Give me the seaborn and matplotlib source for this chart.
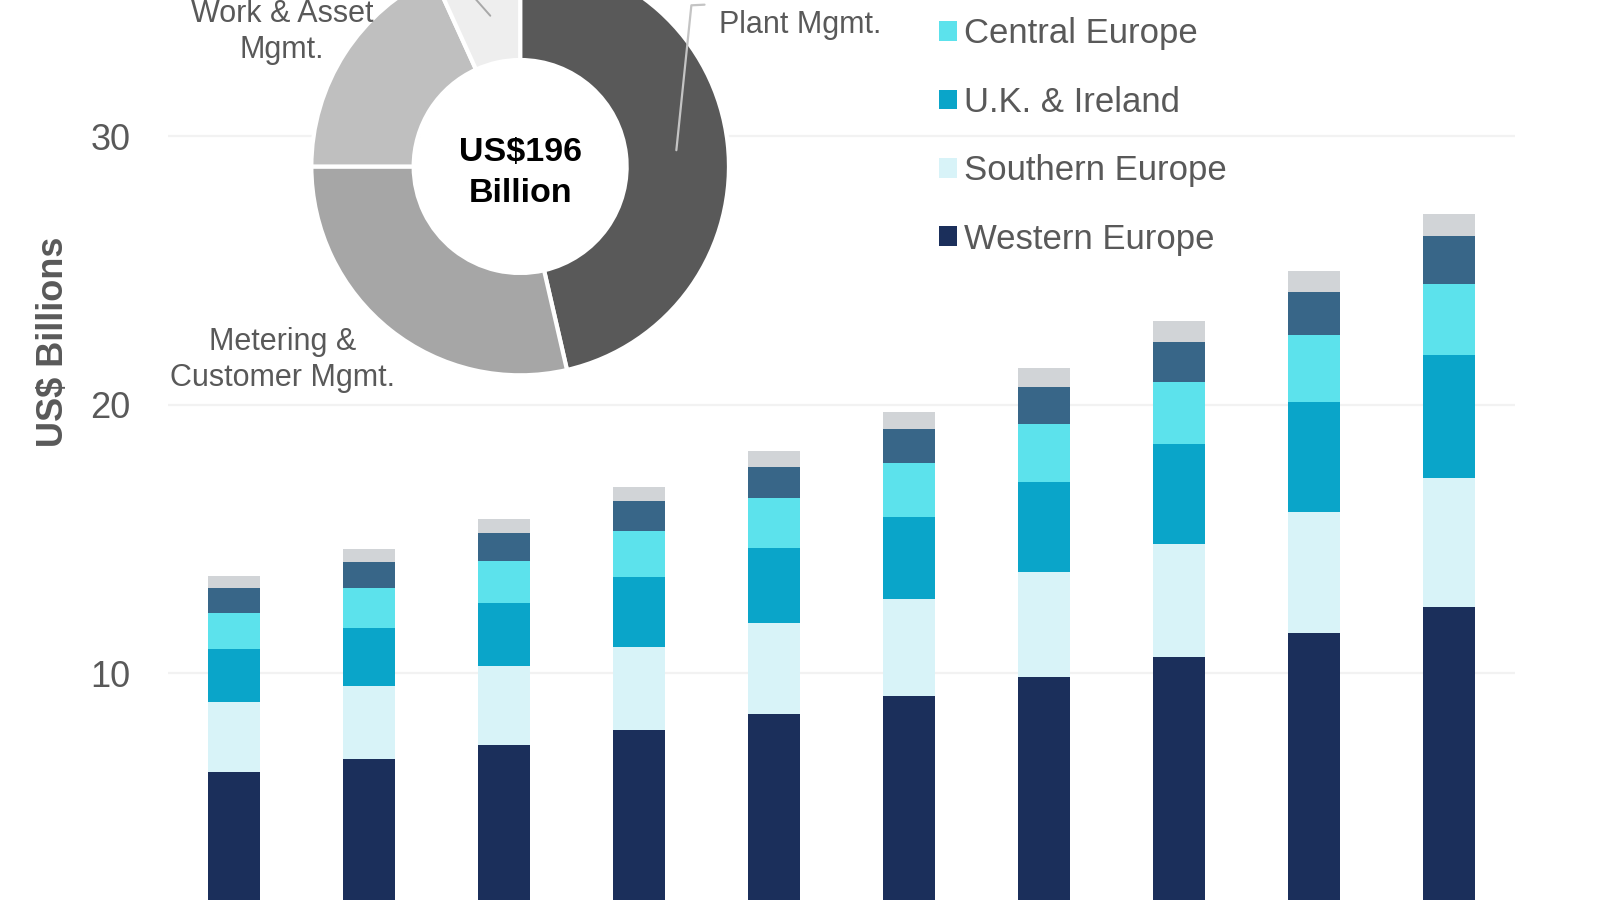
import numpy as np
import pandas as pd
import matplotlib.pyplot as plt
import seaborn as sns
from matplotlib.patches import Patch

# bar data, US$ billions per region (bottom to top of each stack)
years = ['2017', '2018', '2019', '2020', '2021', '2022', '2023', '2024', '2025', '2026']
western = [6.34, 6.80, 7.34, 7.90, 8.49, 9.16, 9.86, 10.63, 11.50, 12.47]
southern = [2.59, 2.75, 2.94, 3.10, 3.38, 3.61, 3.93, 4.19, 4.53, 4.80]
uk_ireland = [1.97, 2.13, 2.33, 2.61, 2.80, 3.07, 3.35, 3.73, 4.09, 4.59]
central = [1.36, 1.52, 1.59, 1.71, 1.85, 1.99, 2.15, 2.32, 2.49, 2.65]
nordic = [0.91, 0.94, 1.04, 1.10, 1.17, 1.28, 1.39, 1.49, 1.61, 1.78]
eastern = [0.46, 0.50, 0.50, 0.54, 0.58, 0.62, 0.69, 0.77, 0.78, 0.82]

regions = ['Western Europe', 'Southern Europe', 'U.K. & Ireland',
           'Central Europe', 'Nordic Countries', 'Eastern Europe']
region_colors = ['#1b2f5b', '#d8f3f8', '#0aa5c9', '#5ce2ec', '#386688', '#d1d4d7']

# donut data, share of total
donut_labels = ['Plant Mgmt.', 'Metering &\nCustomer Mgmt.', 'Work & Asset\nMgmt.', 'Other']
donut_shares = [46.4, 28.6, 18.2, 6.8]
donut_colors = ['#595959', '#a6a6a6', '#bfbfbf', '#eeeeee']

grey_text = '#595959'

sns.set_style('white')
plt.rcParams['font.family'] = ['Liberation Sans', 'DejaVu Sans']

fig = plt.figure(figsize=(16, 9), dpi=100)
ax = fig.add_axes([0.105, 0.0, 0.842, 1.0])

df = pd.DataFrame({'year': years})
series = [western, southern, uk_ireland, central, nordic, eastern]
stack = np.cumsum(np.array(series), axis=0)

# draw cumulative totals, tallest first, so each layer sits on the one below
for i in reversed(range(len(series))):
    df['value'] = stack[i]
    sns.barplot(data=df, x='year', y='value', color=region_colors[i],
                saturation=1, width=0.39, errorbar=None, linewidth=0, ax=ax)

ax.set_xlim(-0.49, 9.49)
ax.set_ylim(1.564, 35.08)
ax.set_yticks([10, 20, 30])
ax.set_xticks([])
ax.set_xlabel('')
ax.set_ylabel('')
ax.yaxis.grid(True, color='#f2f2f2', linewidth=1.6)
ax.set_axisbelow(True)
ax.tick_params(axis='y', length=0, pad=27, labelsize=26, labelcolor=grey_text)
sns.despine(ax=ax, left=True, bottom=True)

fig.text(0.0335, 0.62, 'US$ Billions', rotation=90, ha='center', va='center',
         fontsize=26, fontweight='bold', color=grey_text)

# legend, top two entries run off the top of the picture
handles = [Patch(facecolor=region_colors[i], edgecolor='none') for i in reversed(range(6))]
labels = list(reversed(regions))
fig.legend(handles, labels, loc='lower left', bbox_to_anchor=(0.587, 0.716),
           frameon=False, fontsize=25, labelcolor=grey_text, handlelength=0.5,
           handleheight=0.5, handletextpad=0.22, labelspacing=1.02,
           borderpad=0, borderaxespad=0)

# donut inset
ax2 = fig.add_axes([0.1946, 0.583, 0.261, 0.464])
ax2.set_facecolor('none')
ax2.pie(donut_shares, colors=donut_colors, startangle=90, counterclock=False,
        wedgeprops=dict(width=0.49, edgecolor='white', linewidth=3))
ax2.add_artist(plt.Circle((0, 0), 0.5, color='white', zorder=0))
ax2.set_xlim(-1, 1)
ax2.set_ylim(-1, 1)
ax2.set_aspect('equal')

ax2.text(0, -0.03, 'US$196\nBillion', ha='center', va='center', fontsize=24.5,
         fontweight='bold', color='black', linespacing=1.42)
ax2.text(-1.14, 0.645, donut_labels[2], ha='center', va='center', fontsize=22,
         color=grey_text, linespacing=1.25, clip_on=False)
ax2.text(-1.136, -0.925, donut_labels[1], ha='center', va='center', fontsize=22,
         color=grey_text, linespacing=1.25, clip_on=False)
ax2.text(0.952, 0.678, donut_labels[0], ha='left', va='center', fontsize=22,
         color=grey_text, clip_on=False)
ax2.text(0.952, 0.85, 'Generation &', ha='left', va='center', fontsize=22,
         color=grey_text, clip_on=False)

# leader lines
ax2.plot([0.748, 0.820, 0.883], [0.078, 0.772, 0.775], color='#c4c4c4',
         linewidth=1.6, clip_on=False)
ax2.plot([-0.143, -0.30], [0.722, 0.90], color='#a8a8a8', linewidth=1.4,
         clip_on=False)

plt.savefig('out.png', dpi=100)
